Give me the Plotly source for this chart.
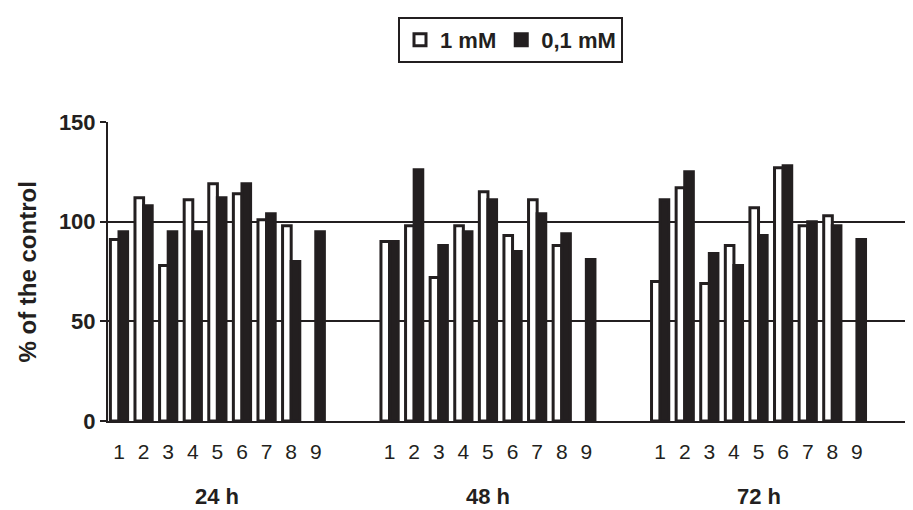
import plotly.graph_objects as go

# ---- data ----
samples = ["1", "2", "3", "4", "5", "6", "7", "8", "9"]
groups = ["24 h", "48 h", "72 h"]

open_24 = [91, 112, 78, 111, 119, 114, 101, 98, None]
fill_24 = [95, 108, 95, 95, 112, 119, 104, 80, 95]
open_48 = [90, 98, 72, 98, 115, 93, 111, 88, None]
fill_48 = [90, 126, 88, 95, 111, 85, 104, 94, 81]
open_72 = [70, 117, 69, 88, 107, 127, 98, 103, None]
fill_72 = [111, 125, 84, 78, 93, 128, 100, 98, 91]

y_ticks = [0, 50, 100, 150]
grid_vals = [50, 100]

INK = "#231f20"
FONT = "Liberation Sans, Arial, sans-serif"

# category positions: 9 samples per group, two empty slots between groups
group_stride = len(samples) + 2
xpos = []
xlabels = []
for g in range(len(groups)):
    for i, s in enumerate(samples):
        xpos.append(g * group_stride + i)
        xlabels.append(s)
group_centers = [g * group_stride + (len(samples) - 1) / 2 for g in range(len(groups))]

open_vals = open_24 + open_48 + open_72
fill_vals = fill_24 + fill_48 + fill_72

fig = go.Figure()
fig.add_trace(go.Bar(
    x=xpos, y=open_vals, name="1 mM",
    marker=dict(color="white", line=dict(color=INK, width=3)),
))
fig.add_trace(go.Bar(
    x=xpos, y=fill_vals, name="0,1 mM",
    marker=dict(color=INK, line=dict(color=INK, width=3)),
))

annotations = [
    dict(text=f"<b>{g}</b>", x=c, xref="x", y=-0.254, yref="paper",
         xanchor="center", yanchor="middle", showarrow=False,
         font=dict(family=FONT, size=22, color=INK))
    for g, c in zip(groups, group_centers)
]
annotations.append(dict(
    text="<b>% of the control</b>", x=-0.0994, xref="paper", y=0.5, yref="paper",
    textangle=-90, xanchor="center", yanchor="middle", showarrow=False,
    font=dict(family=FONT, size=24, color=INK)))

# the page places the figure 8px in from the top-left corner
fig.update_layout(
    width=905, height=502,
    margin=dict(l=100, r=0, t=114, b=89),
    paper_bgcolor="white", plot_bgcolor="white",
    barmode="group", bargap=0.3, bargroupgap=0,
    font=dict(family=FONT, color=INK),
    showlegend=True,
    legend=dict(
        orientation="h", x=0.5, xanchor="center", y=1.351, yanchor="top",
        bordercolor=INK, borderwidth=2, bgcolor="white",
        font=dict(family=FONT, size=22, color=INK, weight="bold"),
        itemwidth=30,
    ),
    annotations=annotations,
    xaxis=dict(
        range=[-0.447, 32.28],
        tickmode="array", tickvals=xpos, ticktext=xlabels,
        showline=True, linecolor=INK, linewidth=2,
        ticks="", showgrid=False, zeroline=False,
        tickfont=dict(family=FONT, size=21, color=INK),
        ticklabelstandoff=11,
    ),
    yaxis=dict(
        range=[0, 150],
        tickmode="array", tickvals=y_ticks,
        showline=True, linecolor=INK, linewidth=2,
        ticks="outside", ticklen=6, tickwidth=2, tickcolor=INK,
        showgrid=False, zeroline=False,
        tickfont=dict(family=FONT, size=22, color=INK, weight="bold"),
        minor=dict(tickmode="array", tickvals=grid_vals, showgrid=True,
                   gridcolor=INK, gridwidth=1.5, ticks=""),
    ),
)

fig.write_html("out.html")
